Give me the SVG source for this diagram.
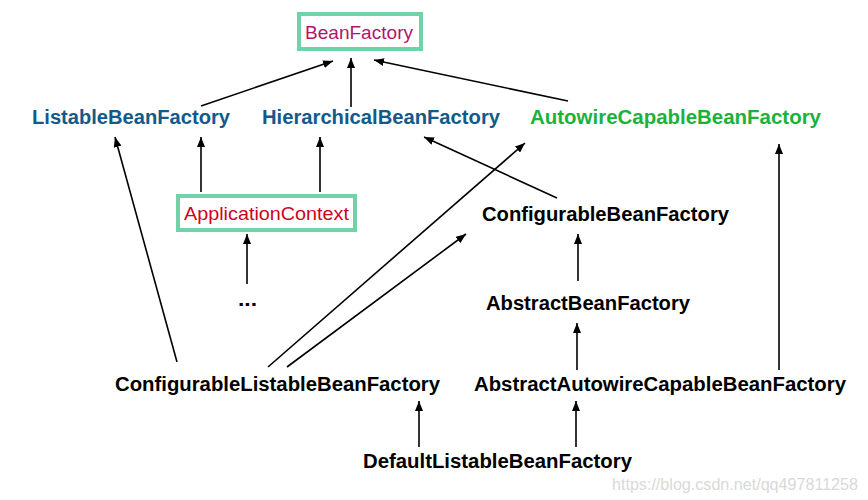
<svg xmlns="http://www.w3.org/2000/svg" width="868" height="500" viewBox="0 0 868 500">
<style>
.b{font-family:"Liberation Sans",Arial,sans-serif;font-weight:bold;font-size:20px;fill:#000}
.r{font-family:"Liberation Sans",Arial,sans-serif;font-size:18.5px}
.blue{fill:#12598c}
.green{fill:#1bb23c}
.box{fill:#fff;stroke:#72d2a7;stroke-width:4}
.c line{stroke:#000;stroke-width:1.6;marker-end:url(#ah)}
.wm{font-family:"Liberation Sans",Arial,sans-serif;font-size:16px;fill:#d9d9d9}
</style>
<defs>
<marker id="ah" markerUnits="userSpaceOnUse" markerWidth="10" markerHeight="8" refX="10" refY="4" orient="auto">
<path d="M0,0 L10,4 L0,8 z" fill="#000"/>
</marker>
</defs>
<rect width="868" height="500" fill="#fff"/>
<g class="c" id="connectors">
<line x1="201" y1="106" x2="333" y2="61"/>
<line x1="351" y1="107" x2="351" y2="58"/>
<line x1="568" y1="101" x2="374" y2="60"/>
<line x1="201" y1="192" x2="201" y2="137"/>
<line x1="320" y1="192" x2="320" y2="137"/>
<line x1="247" y1="284" x2="247" y2="234"/>
<line x1="177" y1="362" x2="115" y2="137"/>
<line x1="268" y1="367" x2="525" y2="143"/>
<line x1="287" y1="367" x2="466" y2="234"/>
<line x1="557" y1="198" x2="424" y2="137"/>
<line x1="578" y1="281" x2="578" y2="234"/>
<line x1="577" y1="370" x2="577" y2="323"/>
<line x1="779" y1="370" x2="779" y2="144"/>
<line x1="419" y1="447" x2="419" y2="401"/>
<line x1="576" y1="447" x2="576" y2="401"/>
</g>
<g id="BeanFactory">
<rect class="box" x="299" y="14" width="122" height="35"/>
<text class="r" x="305" y="39" fill="#b3146b" textLength="108" lengthAdjust="spacingAndGlyphs">BeanFactory</text>
</g>
<g id="ListableBeanFactory">
<text class="b blue" x="32" y="124" textLength="198" lengthAdjust="spacingAndGlyphs">ListableBeanFactory</text>
</g>
<g id="HierarchicalBeanFactory">
<text class="b blue" x="262" y="124" textLength="238" lengthAdjust="spacingAndGlyphs">HierarchicalBeanFactory</text>
</g>
<g id="AutowireCapableBeanFactory">
<text class="b green" x="530" y="124" textLength="291" lengthAdjust="spacingAndGlyphs">AutowireCapableBeanFactory</text>
</g>
<g id="ApplicationContext">
<rect class="box" x="178" y="196" width="177" height="34"/>
<text class="r" x="184" y="220" fill="#d0021b" textLength="165" lengthAdjust="spacingAndGlyphs">ApplicationContext</text>
</g>
<g id="ConfigurableBeanFactory">
<text class="b" x="482" y="221" textLength="247" lengthAdjust="spacingAndGlyphs">ConfigurableBeanFactory</text>
</g>
<g id="Ellipsis">
<text class="b" x="238" y="306" textLength="19" lengthAdjust="spacingAndGlyphs">...</text>
</g>
<g id="AbstractBeanFactory">
<text class="b" x="486" y="310" textLength="204" lengthAdjust="spacingAndGlyphs">AbstractBeanFactory</text>
</g>
<g id="ConfigurableListableBeanFactory">
<text class="b" x="115" y="391" textLength="325" lengthAdjust="spacingAndGlyphs">ConfigurableListableBeanFactory</text>
</g>
<g id="AbstractAutowireCapableBeanFactory">
<text class="b" x="474" y="391" textLength="372" lengthAdjust="spacingAndGlyphs">AbstractAutowireCapableBeanFactory</text>
</g>
<g id="DefaultListableBeanFactory">
<text class="b" x="363" y="468" textLength="269" lengthAdjust="spacingAndGlyphs">DefaultListableBeanFactory</text>
</g>
<text class="wm" x="612" y="490" textLength="246" lengthAdjust="spacingAndGlyphs">https://blog.csdn.net/qq497811258</text>
</svg>
